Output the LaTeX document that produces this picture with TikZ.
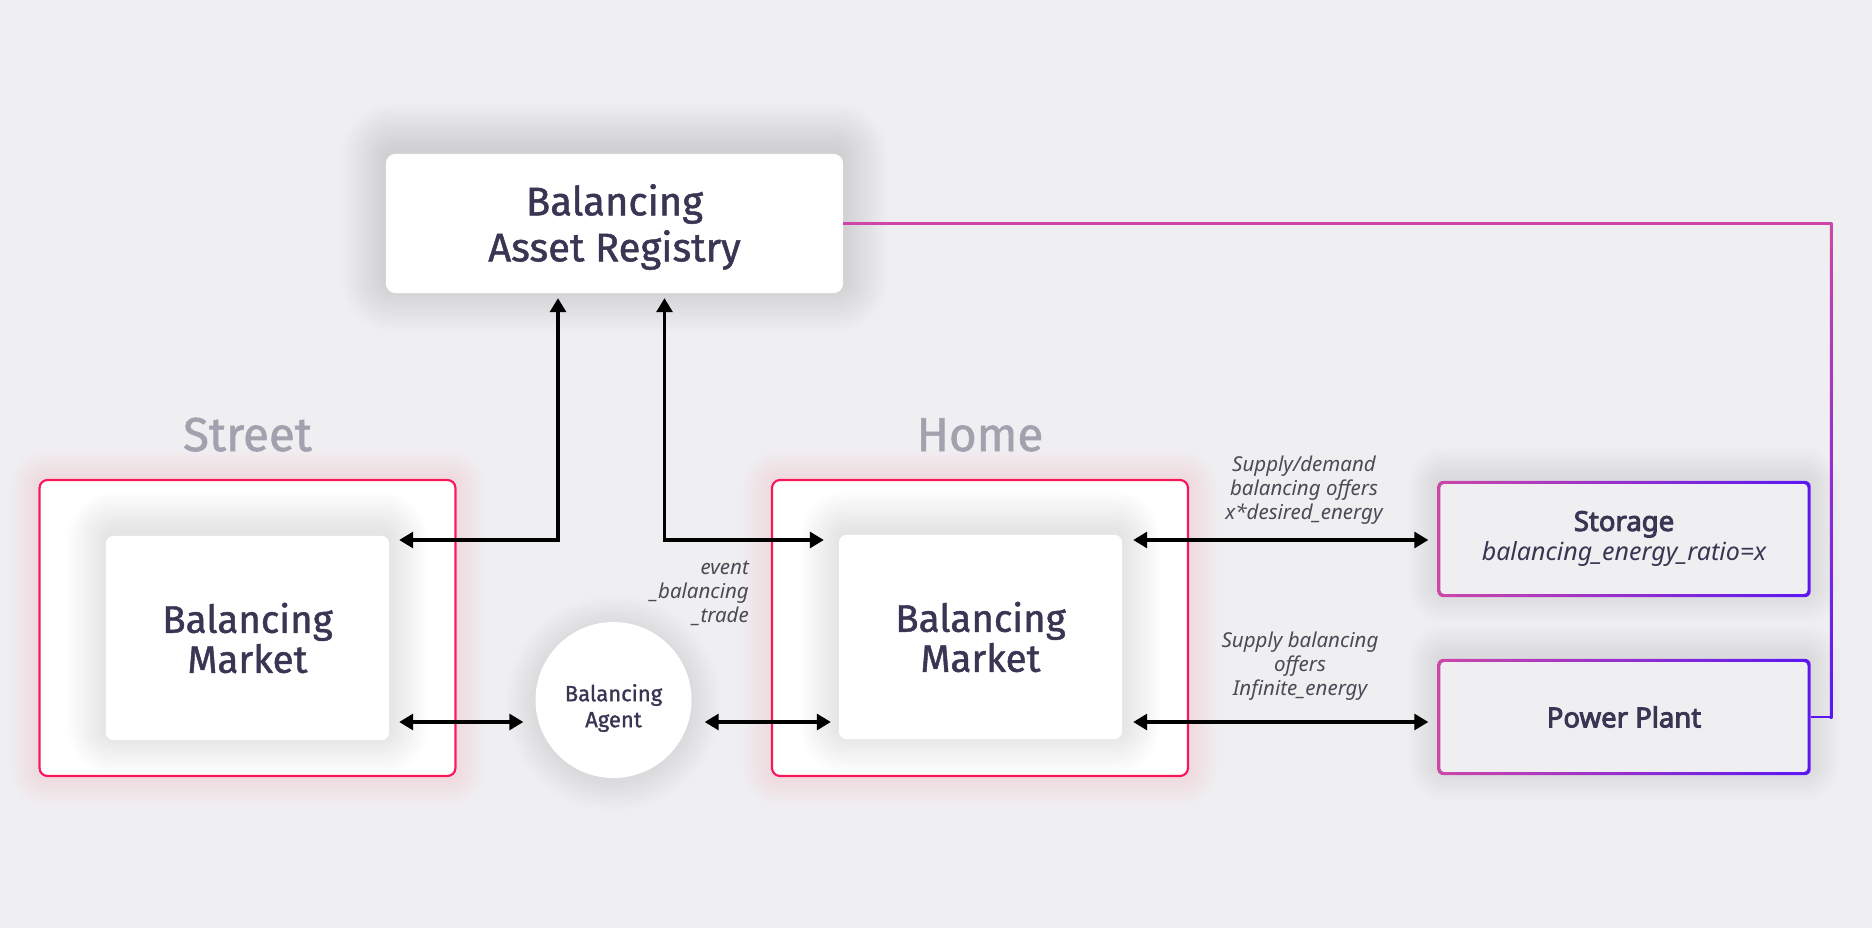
\documentclass[tikz,border=0pt]{standalone}
\usepackage{fontspec}
\setmainfont{Fira Sans}
\newfontfamily\headfont{Fira Sans}[FakeBold=1.2]
\newfontfamily\robo{Noto Sans}
\newfontfamily\robob{Noto Sans}[FakeBold=3.4]
\usetikzlibrary{arrows.meta,backgrounds}
\definecolor{bg}{HTML}{EFEFF2}
\definecolor{ink}{HTML}{3B3553}
\definecolor{muted}{HTML}{A4A1AE}
\definecolor{redb}{HTML}{F7185A}
\definecolor{gl}{HTML}{CC47A8}
\definecolor{gr}{HTML}{5B17F2}
\definecolor{note}{HTML}{4B4A55}
\definecolor{shd}{HTML}{5A5866}
% glow around a rectangular node: node, colour, steps, step size, opacity, y offset
\newcommand\glowrect[6]{%
  \begin{pgfonlayer}{background}
  \foreach \r in {1,...,#3}{
    \pgfmathsetmacro\dd{\r*#4}
    \fill[#2, opacity=#5, rounded corners={(\dd+8)*1pt}]
      ([xshift=-\dd pt, yshift=\dd pt-#6]#1.north west) rectangle
      ([xshift=\dd pt, yshift=-\dd pt-#6]#1.south east);
  }
  \end{pgfonlayer}}
\newcommand\boxfill[3]{%
  \begin{pgfonlayer}{background}
  \fill[#3, rounded corners=#2] (#1.north west) rectangle (#1.south east);
  \end{pgfonlayer}}
\begin{document}
\begin{tikzpicture}[x=1pt,y=-1pt,
  mtext/.style={text=ink, font=\headfont\fontsize{38.5}{40}\selectfont, align=center, inner sep=0pt},
  outerbox/.style={rectangle, draw=redb, line width=2.2pt, rounded corners=8pt, minimum width=416pt, minimum height=296pt, inner sep=0pt},
  innerbox/.style={rectangle, minimum width=283pt, minimum height=204pt, mtext},
  gbox/.style={rectangle, minimum width=373pt, minimum height=116pt, inner sep=0pt, align=center, text=ink, font=\robo\fontsize{25}{30}\selectfont},
  biarr/.style={{Triangle[length=14pt,width=16pt]}-{Triangle[length=14pt,width=16pt]}, line width=3.1pt, black},
  lbl/.style={text=note, font=\robo\itshape\fontsize{20.5}{24}\selectfont, inner sep=0pt},
  region/.style={text=muted, font=\headfont\fontsize{47.5}{50}\selectfont, anchor=base, inner sep=0pt}
]
\begin{pgfonlayer}{background}
\fill[bg] (0,0) rectangle (1872,928);
\end{pgfonlayer}
\useasboundingbox (0,0) rectangle (1872,928);

% registry
\node[rectangle, minimum width=457pt, minimum height=139pt, inner sep=0pt] (reg) at (614.5,223.5) {};
\node[mtext, font=\headfont\fontsize{40}{46}\selectfont] (regt) at (614.5,227) {Balancing\\Asset Registry};
\glowrect{reg}{shd}{30}{1.5}{0.003}{-6pt}
\boxfill{reg}{10pt}{white}

% region labels
\node[region] (stl) at (247.5,451) {Street};
\node[region] (hol) at (980,451) {Home};

% outer boxes
\node[outerbox] (so) at (247.5,628) {};
\node[outerbox] (ho) at (980,628) {};
\glowrect{so}{redb}{20}{1.5}{0.0035}{0pt}
\glowrect{ho}{redb}{20}{1.5}{0.0035}{0pt}
\boxfill{so}{8pt}{white}
\boxfill{ho}{8pt}{white}

% inner boxes
\node[innerbox] (sm) at (247.5,638) {Balancing\\Market};
\node[innerbox] (hm) at (980.5,637) {Balancing\\Market};
\glowrect{sm}{shd}{26}{1.5}{0.0032}{-5pt}
\glowrect{hm}{shd}{26}{1.5}{0.0032}{-5pt}
\boxfill{sm}{8pt}{white}
\boxfill{hm}{8pt}{white}

% agent
\node[circle, minimum size=156pt, inner sep=0pt] (agent) at (613.5,700) {};
\begin{pgfonlayer}{background}
\foreach \r in {1,...,20}{
  \fill[shd, opacity=0.0035] ([yshift=-3pt]agent.center) circle[radius={(78+\r*1.5)*1pt}];
}
\fill[white] (agent.center) circle[radius=78pt];
\end{pgfonlayer}
\node[mtext, font=\headfont\fontsize{22}{26}\selectfont] (agentt) at (613.5,708) {Balancing\\Agent};

% storage and power plant
\node[gbox] (st) at (1624,539) {{\robob\fontsize{27.5}{30}\selectfont Storage}\\{\itshape balancing\_energy\_ratio=x}};
\node[gbox, font=\robob\fontsize{27.5}{30}\selectfont] (pp) at (1624,717) {Power Plant};
\glowrect{st}{shd}{20}{1.5}{0.0022}{-4pt}
\glowrect{pp}{shd}{20}{1.5}{0.0022}{-4pt}
\boxfill{st}{6pt}{bg}
\boxfill{pp}{6pt}{bg}
\shade[left color=gl, right color=gr, even odd rule]
  [rounded corners=6pt] (st.north west) rectangle (st.south east)
  [rounded corners=4pt] ([xshift=3pt,yshift=-3pt]st.north west) rectangle ([xshift=-3pt,yshift=3pt]st.south east);
\shade[left color=gl, right color=gr, even odd rule]
  [rounded corners=6pt] (pp.north west) rectangle (pp.south east)
  [rounded corners=4pt] ([xshift=3pt,yshift=-3pt]pp.north west) rectangle ([xshift=-3pt,yshift=3pt]pp.south east);

% helper coordinates
\coordinate (ya) at (0,540);
\coordinate (yb) at (0,722);
\coordinate (va) at (558,0);
\coordinate (vb) at (664.5,0);
\coordinate (vr) at (1831,0);

% registry to power plant connector
\draw[line width=2.5pt, gl] (reg.east) -| (vr |- pp.east) -- (pp.east);
\path (vr |- reg.east) coordinate (rt) (vr |- pp.east) coordinate (rb);
\shade[top color=gl, bottom color=gr] ([xshift=-1.25pt,yshift=1.25pt]rt) rectangle ([xshift=1.25pt,yshift=-1.25pt]rb);
\draw[line width=2.5pt, gr] ([xshift=1.25pt]rb) -- (pp.east);

% arrows
\draw[biarr, shorten <=10pt, shorten >=5pt] (sm.east |- ya) -| (va |- reg.south);
\draw[biarr, shorten <=5pt, shorten >=15pt] (vb |- reg.south) |- (hm.west |- ya);
\draw[biarr, shorten <=10pt, shorten >=12pt] (sm.east |- yb) -- (agent.west |- yb);
\draw[biarr, shorten <=13pt, shorten >=8pt] (agent.east |- yb) -- (hm.west |- yb);
\draw[biarr, shorten <=11pt, shorten >=9pt] (hm.east |- ya) -- (st.west |- ya);
\draw[biarr, shorten <=11pt, shorten >=9pt] (hm.east |- yb) -- (pp.west |- yb);

% labels
\node[lbl, align=center] (l1) at (1304,490) {Supply/demand\\balancing offers\\x*desired\_energy};
\node[lbl, align=center] (l2) at (1300,666) {Supply balancing\\offers\\Infinite\_energy};
\node[lbl, align=right, anchor=east] (l3) at (749,593) {event\\\_balancing\\\_trade};
\end{tikzpicture}
\end{document}
